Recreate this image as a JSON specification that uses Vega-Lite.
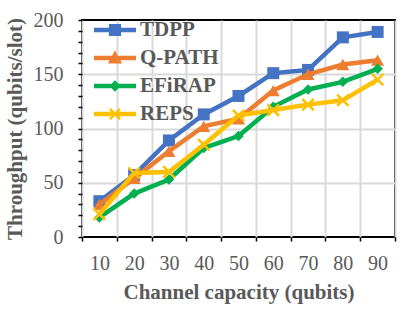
{
  "$schema": "https://vega.github.io/schema/vega-lite/v6.json",
  "width": 313,
  "height": 217,
  "autosize": {"type": "none"},
  "padding": {"left": 82, "top": 20, "right": 10, "bottom": 74},
  "background": "white",
  "config": {
    "view": {"stroke": "black", "strokeWidth": 2},
    "font": "Liberation Serif"
  },
  "data": {
    "values": [
      {"cap": 10, "series": "TDPP", "value": 33},
      {"cap": 20, "series": "TDPP", "value": 57},
      {"cap": 30, "series": "TDPP", "value": 89},
      {"cap": 40, "series": "TDPP", "value": 113},
      {"cap": 50, "series": "TDPP", "value": 130},
      {"cap": 60, "series": "TDPP", "value": 151},
      {"cap": 70, "series": "TDPP", "value": 154},
      {"cap": 80, "series": "TDPP", "value": 184},
      {"cap": 90, "series": "TDPP", "value": 189},
      {"cap": 10, "series": "Q-PATH", "value": 30},
      {"cap": 20, "series": "Q-PATH", "value": 54},
      {"cap": 30, "series": "Q-PATH", "value": 79},
      {"cap": 40, "series": "Q-PATH", "value": 102},
      {"cap": 50, "series": "Q-PATH", "value": 109},
      {"cap": 60, "series": "Q-PATH", "value": 135},
      {"cap": 70, "series": "Q-PATH", "value": 150},
      {"cap": 80, "series": "Q-PATH", "value": 159},
      {"cap": 90, "series": "Q-PATH", "value": 163},
      {"cap": 10, "series": "EFiRAP", "value": 18},
      {"cap": 20, "series": "EFiRAP", "value": 40},
      {"cap": 30, "series": "EFiRAP", "value": 53},
      {"cap": 40, "series": "EFiRAP", "value": 82},
      {"cap": 50, "series": "EFiRAP", "value": 93},
      {"cap": 60, "series": "EFiRAP", "value": 120},
      {"cap": 70, "series": "EFiRAP", "value": 136},
      {"cap": 80, "series": "EFiRAP", "value": 143},
      {"cap": 90, "series": "EFiRAP", "value": 155},
      {"cap": 10, "series": "REPS", "value": 21},
      {"cap": 20, "series": "REPS", "value": 59},
      {"cap": 30, "series": "REPS", "value": 60},
      {"cap": 40, "series": "REPS", "value": 85},
      {"cap": 50, "series": "REPS", "value": 112},
      {"cap": 60, "series": "REPS", "value": 117},
      {"cap": 70, "series": "REPS", "value": 122},
      {"cap": 80, "series": "REPS", "value": 126},
      {"cap": 90, "series": "REPS", "value": 145}
    ]
  },
  "encoding": {
    "x": {
      "field": "cap", "type": "quantitative",
      "scale": {"domain": [5, 95], "nice": false, "zero": false},
      "axis": {
        "title": "Channel capacity (qubits)",
        "values": [5, 15, 25, 35, 45, 55, 65, 75, 85, 95],
        "labelExpr": "datum.value > 10 ? '' + (datum.value - 5) : ''",
        "labelOffset": -17.4,
        "domain": false,
        "grid": true,
        "gridColor": "#d9d9d9",
        "gridWidth": 2,
        "ticks": true, "tickSize": 4, "tickColor": "black", "tickWidth": 1.5,
        "labelFont": "Liberation Serif", "labelFontSize": 20, "labelColor": "#595959",
        "labelPadding": 12, "labelFlush": false, "labelOverlap": false, "labelBound": false,
        "titleFont": "Liberation Serif", "titleFontSize": 21, "titleFontWeight": "bold",
        "titleColor": "#595959", "titlePadding": 8
      }
    },
    "y": {
      "field": "value", "type": "quantitative",
      "scale": {"domain": [0, 200], "nice": false},
      "axis": {
        "title": "Throughput (qubits/slot)",
        "values": [0, 10, 20, 30, 40, 50, 60, 70, 80, 90, 100, 110, 120, 130, 140, 150, 160, 170, 180, 190, 200],
        "labelExpr": "datum.value % 50 == 0 ? datum.label : ''",
        "domain": false,
        "grid": true,
        "gridColor": "#d9d9d9",
        "gridWidth": 2,
        "gridOpacity": {"condition": {"test": "datum.value % 50 == 0 && datum.value > 0 && datum.value < 200", "value": 1}, "value": 0},
        "ticks": true, "tickSize": 4, "tickColor": "black", "tickWidth": 1.5,
        "labelFont": "Liberation Serif", "labelFontSize": 20, "labelColor": "#595959",
        "labelPadding": 15, "labelOverlap": false,
        "titleFont": "Liberation Serif", "titleFontSize": 21, "titleFontWeight": "bold",
        "titleColor": "#595959", "titlePadding": 8
      }
    }
  },
  "layer": [
    {
      "transform": [{"filter": "datum.series == 'TDPP'"}],
      "mark": {"type": "line", "strokeWidth": 4.5, "color": "#4472C4", "point": {"shape": "square", "size": 144, "filled": true, "color": "#4472C4"}}
    },
    {
      "transform": [{"filter": "datum.series == 'Q-PATH'"}],
      "mark": {"type": "line", "strokeWidth": 4.5, "color": "#ED7D31", "point": {"shape": "triangle-up", "size": 170, "filled": true, "color": "#ED7D31"}}
    },
    {
      "transform": [{"filter": "datum.series == 'EFiRAP'"}],
      "mark": {"type": "line", "strokeWidth": 4.5, "color": "#00B050", "point": {"shape": "diamond", "size": 110, "filled": true, "color": "#00B050"}}
    },
    {
      "transform": [{"filter": "datum.series == 'REPS'"}],
      "mark": {"type": "line", "strokeWidth": 4.5, "color": "#FFC000", "point": {"shape": "M-1,-1L1,1M-1,1L1,-1", "size": 130, "filled": false, "strokeWidth": 2.5, "color": "#FFC000"}}
    },
    {
      "mark": {"type": "point", "filled": true, "opacity": 0},
      "encoding": {
        "color": {"field": "series", "type": "nominal",
          "scale": {"domain": ["TDPP", "Q-PATH", "EFiRAP", "REPS"], "range": ["#4472C4", "#ED7D31", "#00B050", "#FFC000"]},
          "legend": {
            "title": null,
            "orient": "none", "legendX": 11, "legendY": 0,
            "padding": 0,
            "symbolSize": 1764, "symbolOpacity": 1,
            "clipHeight": 20, "rowPadding": 7,
            "labelFont": "Liberation Serif", "labelFontSize": 21, "labelFontWeight": "bold",
            "labelColor": "#595959", "labelOffset": 3, "labelLimit": 200
          }},
        "shape": {"field": "series", "type": "nominal",
          "scale": {"domain": ["TDPP", "Q-PATH", "EFiRAP", "REPS"],
            "range": [
              "M-1,-0.11H1V0.11H-1Z M-0.29,-0.29H0.29V0.29H-0.29Z",
              "M-1,-0.11H1V0.11H-1Z M0,-0.36L0.34,0.26H-0.34Z",
              "M-1,-0.11H1V0.11H-1Z M0,-0.27L0.27,0L0,0.27L-0.27,0Z",
              "M-1,-0.11H1V0.11H-1Z M-0.2,-0.28L0.28,0.2L0.2,0.28L-0.28,-0.2Z M0.2,-0.28L0.28,-0.2L-0.2,0.28L-0.28,0.2Z"
            ]},
          "legend": {
            "title": null,
            "orient": "none", "legendX": 11, "legendY": 0,
            "padding": 0,
            "symbolSize": 1764, "symbolOpacity": 1,
            "clipHeight": 20, "rowPadding": 7,
            "labelFont": "Liberation Serif", "labelFontSize": 21, "labelFontWeight": "bold",
            "labelColor": "#595959", "labelOffset": 3, "labelLimit": 200
          }
        }
      }
    }
  ]
}
